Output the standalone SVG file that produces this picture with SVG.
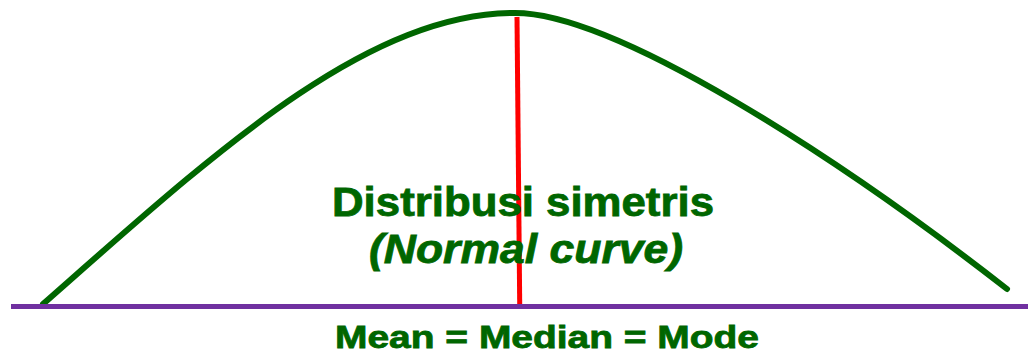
<svg xmlns="http://www.w3.org/2000/svg" width="1028" height="353" viewBox="0 0 1028 353">
<style>
.lbl{font-family:"Liberation Sans",Arial,sans-serif;font-weight:bold;fill:#006600;stroke:#006600;stroke-width:0.8}
</style>
<rect width="1028" height="353" fill="#ffffff"/>
<g id="curve">
<path d="M43,304 C213,154.4 365,13 515,13 C615,13 837,156.4 1007,289" fill="none" stroke="#006600" stroke-width="6" stroke-linecap="round"/>
</g>
<g id="connectors">
<line id="axis" x1="11" y1="306.5" x2="1028" y2="306.5" stroke="#7030A0" stroke-width="5"/>
<line id="center-line" x1="517" y1="17" x2="519.7" y2="304" stroke="#FF0000" stroke-width="5"/>
</g>
<g id="label-title">
<text class="lbl" x="332" y="216" font-size="40" textLength="382" lengthAdjust="spacingAndGlyphs">Distribusi simetris</text>
<text class="lbl" x="369" y="263" font-size="40" font-style="italic" textLength="314" lengthAdjust="spacingAndGlyphs">(Normal curve)</text>
</g>
<g id="label-axis">
<text class="lbl" x="335" y="348" font-size="32" textLength="424" lengthAdjust="spacingAndGlyphs">Mean = Median = Mode</text>
</g>
</svg>
